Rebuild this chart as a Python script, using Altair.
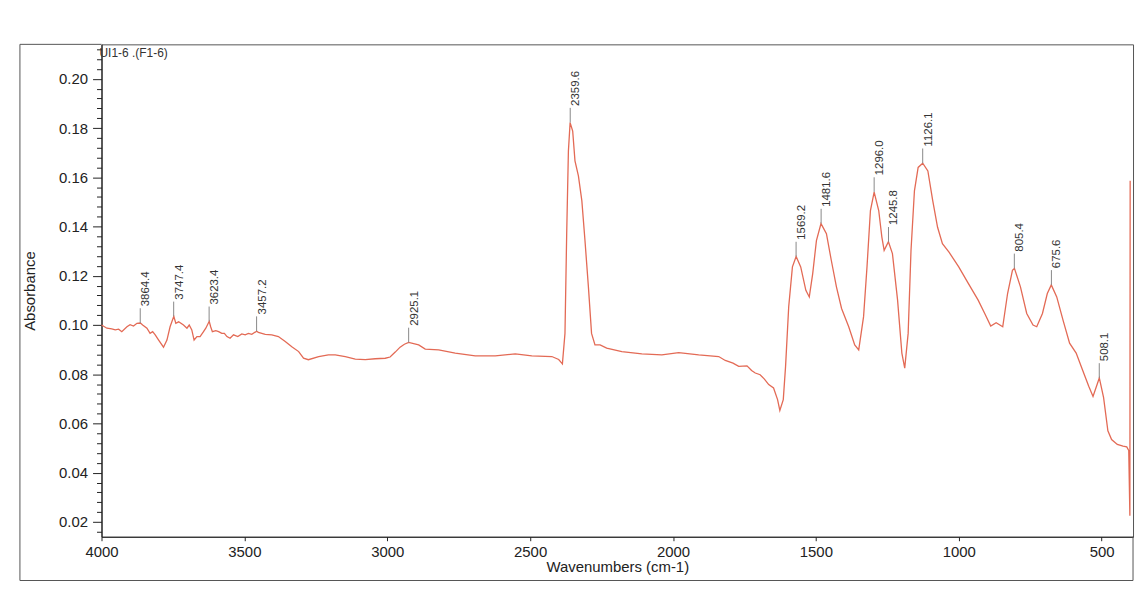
import altair as alt
import pandas as pd

# ---- spectrum ----
wavenumber = [
    4000, 3981, 3964, 3952, 3940, 3929, 3911, 3900, 3888, 3876, 3864, 3856, 3841, 3830, 3821, 3812,
    3800, 3783, 3771, 3760, 3747, 3740, 3730, 3713, 3701, 3693, 3684, 3676, 3666, 3655, 3643, 3635,
    3623, 3618, 3612, 3600, 3590, 3579, 3570, 3561, 3550, 3538, 3523, 3509, 3497, 3486, 3474, 3457,
    3451, 3427, 3404, 3381, 3357, 3334, 3310, 3293, 3276, 3240, 3206, 3182, 3147, 3112, 3077, 3042,
    3007, 2990, 2972, 2955, 2940, 2925, 2890, 2867, 2820, 2762, 2692, 2622, 2552, 2494, 2424, 2400,
    2393, 2387, 2378, 2372, 2366, 2360, 2351, 2343, 2331, 2319, 2308, 2296, 2285, 2273, 2255, 2232,
    2179, 2109, 2039, 1980, 1910, 1840, 1817, 1790, 1770, 1741, 1725, 1712, 1695, 1680, 1665, 1648,
    1634, 1626, 1614, 1606, 1595, 1582, 1569, 1553, 1535, 1523, 1511, 1498, 1482, 1463, 1446, 1428,
    1410, 1385, 1364, 1350, 1333, 1321, 1309, 1296, 1280, 1269, 1261, 1246, 1232, 1214, 1199, 1189,
    1177, 1167, 1155, 1142, 1126, 1108, 1091, 1074, 1057, 1034, 1000, 966, 932, 909, 888, 869,
    846, 829, 812, 805, 784, 762, 740, 727, 707, 690, 676, 657, 635, 612, 589, 567,
    545, 530, 508, 493, 478, 465, 445, 425, 412, 405, 401, 400,
]
absorbance = [
    0.1000, 0.0987, 0.0984, 0.0980, 0.0983, 0.0973, 0.0993, 0.1001, 0.0996, 0.1007, 0.1008, 0.1000, 0.0987, 0.0966, 0.0973, 0.0960,
    0.0939, 0.0910, 0.0939, 0.0993, 0.1035, 0.1007, 0.1013, 0.1000, 0.0987, 0.1000, 0.0980, 0.0939, 0.0953, 0.0953, 0.0973, 0.0987,
    0.1015, 0.0993, 0.0973, 0.0977, 0.0973, 0.0966, 0.0966, 0.0953, 0.0946, 0.0960, 0.0953, 0.0964, 0.0960, 0.0966, 0.0962, 0.0975,
    0.0970, 0.0962, 0.0960, 0.0953, 0.0933, 0.0912, 0.0892, 0.0865, 0.0859, 0.0872, 0.0879, 0.0879, 0.0872, 0.0861, 0.0859, 0.0863,
    0.0865, 0.0870, 0.0890, 0.0910, 0.0922, 0.0929, 0.0919, 0.0902, 0.0899, 0.0886, 0.0875, 0.0875, 0.0883, 0.0875, 0.0872, 0.0860,
    0.0850, 0.0842, 0.0966, 0.1370, 0.1707, 0.1822, 0.1788, 0.1667, 0.1606, 0.1505, 0.1343, 0.1155, 0.0966, 0.0919, 0.0919, 0.0906,
    0.0892, 0.0883, 0.0879, 0.0888, 0.0879, 0.0872, 0.0856, 0.0845, 0.0832, 0.0834, 0.0815, 0.0805, 0.0798, 0.0780, 0.0758, 0.0744,
    0.0697, 0.0653, 0.0697, 0.0832, 0.1074, 0.1236, 0.1278, 0.1236, 0.1141, 0.1114, 0.1209, 0.1343, 0.1412, 0.1371, 0.1263, 0.1155,
    0.1067, 0.0993, 0.0919, 0.0899, 0.1034, 0.1236, 0.1465, 0.1540, 0.1465, 0.1357, 0.1303, 0.1338, 0.1290, 0.1101, 0.0886, 0.0825,
    0.0966, 0.1303, 0.1545, 0.1640, 0.1657, 0.1626, 0.1505, 0.1397, 0.1330, 0.1296, 0.1236, 0.1168, 0.1101, 0.1047, 0.0996, 0.1009,
    0.0993, 0.1128, 0.1222, 0.1230, 0.1155, 0.1047, 0.1000, 0.0993, 0.1047, 0.1128, 0.1163, 0.1114, 0.1020, 0.0926, 0.0886, 0.0818,
    0.0751, 0.0710, 0.0785, 0.0705, 0.0570, 0.0535, 0.0515, 0.0508, 0.0505, 0.0490, 0.0225, 0.1586,
]

# ---- peak annotations ----
peak_wn = [3864.4, 3747.4, 3623.4, 3457.2, 2925.1, 2359.6, 1569.2, 1481.6, 1296.0, 1245.8, 1126.1, 805.4, 675.6, 508.1]
peak_abs = [0.1008, 0.1035, 0.1015, 0.0975, 0.0929, 0.1822, 0.1278, 0.1412, 0.1540, 0.1338, 0.1657, 0.1230, 0.1163, 0.0785]
peak_text = ["3864.4", "3747.4", "3623.4", "3457.2", "2925.1", "2359.6", "1569.2", "1481.6",
             "1296.0", "1245.8", "1126.1", "805.4", "675.6", "508.1"]

sample_name = "UI1-6 .(F1-6)"
x_title = "Wavenumbers (cm-1)"
y_title = "Absorbance"
x_ticks = [4000, 3500, 3000, 2500, 2000, 1500, 1000, 500]
y_ticks = [0.016, 0.02, 0.024, 0.028, 0.032, 0.036, 0.04, 0.044, 0.048, 0.052, 0.056, 0.06,
           0.064, 0.068, 0.072, 0.076, 0.08, 0.084, 0.088, 0.092, 0.096, 0.1, 0.104, 0.108,
           0.112, 0.116, 0.12, 0.124, 0.128, 0.132, 0.136, 0.14, 0.144, 0.148, 0.152, 0.156,
           0.16, 0.164, 0.168, 0.172, 0.176, 0.18, 0.184, 0.188, 0.192, 0.196, 0.2, 0.204,
           0.208, 0.212]

FONT = "Liberation Sans"
LINE_COLOR = "#e36a55"
INK = "#222222"

spec_df = pd.DataFrame({"wn": wavenumber, "a": absorbance})
peaks_df = pd.DataFrame({"wn": peak_wn, "a": peak_abs, "label": peak_text})
peaks_df["top"] = peaks_df["a"] + 0.006
peaks_df["ty"] = peaks_df["a"] + 0.0068

xs = alt.Scale(domain=[390, 4000], reverse=True, nice=False, zero=False)
ys = alt.Scale(domain=[0.014, 0.214], nice=False, zero=False)

major = "abs(round(datum.value*50) - datum.value*50) < 0.001"
x_axis = alt.Axis(values=x_ticks, format="d", title=x_title, tickSize=4, labelPadding=4,
                  titlePadding=0, grid=False, labelFlush=False)
y_axis = alt.Axis(values=y_ticks, title=y_title, grid=False, labelFlush=False,
                  labelExpr=f"{major} ? format(datum.value, '.2f') : ''",
                  tickSize={"condition": {"test": major, "value": 9}, "value": 5},
                  labelPadding=5, titlePadding=21)

line = alt.Chart(spec_df).mark_line(color=LINE_COLOR, strokeWidth=1.3).encode(
    x=alt.X("wn:Q", scale=xs, axis=x_axis),
    y=alt.Y("a:Q", scale=ys, axis=y_axis),
    order=alt.Order("wn:Q", sort="descending"),
)

ticks = alt.Chart(peaks_df).mark_rule(color="#888888", strokeWidth=1).encode(
    x=alt.X("wn:Q", scale=xs, axis=x_axis),
    y=alt.Y("a:Q", scale=ys, axis=y_axis),
    y2="top:Q",
)

labels = alt.Chart(peaks_df).mark_text(
    angle=270, align="left", baseline="top", font=FONT, fontSize=11.5, color="#333333"
).encode(
    x=alt.X("wn:Q", scale=xs, axis=x_axis),
    y=alt.Y("ty:Q", scale=ys, axis=y_axis),
    text="label:N",
)

header = alt.Chart(pd.DataFrame({"t": [sample_name]})).mark_text(
    align="left", baseline="middle", font=FONT, fontSize=12, color="#333333"
).encode(x=alt.value(-2), y=alt.value(9), text="t:N")

frame_df = pd.DataFrame({"k": [0]})
frame_color = "#555555"
frame_left = alt.Chart(frame_df).mark_rule(color=frame_color).encode(
    x=alt.value(-82), y=alt.value(0), y2=alt.value(539))
frame_top = alt.Chart(frame_df).mark_rule(color=frame_color).encode(
    x=alt.value(-82), x2=alt.value(0), y=alt.value(0))
frame_bottom = alt.Chart(frame_df).mark_rule(color=frame_color).encode(
    x=alt.value(-82), x2=alt.value(1037), y=alt.value(539))
frame_right = alt.Chart(frame_df).mark_rule(color=frame_color).encode(
    x=alt.value(1037), y=alt.value(495), y2=alt.value(539))

chart = alt.layer(
    frame_left, frame_top, frame_bottom, frame_right, line, ticks, labels, header
).properties(
    width=1037,
    height=495,
    autosize=alt.AutoSizeParams(type="none"),
    padding={"left": 94, "top": 35, "right": 5, "bottom": 50},
    background="white",
).configure_view(
    stroke=frame_color, strokeWidth=1
).configure_axis(
    labelFont=FONT, titleFont=FONT, labelFontSize=15, titleFontSize=15,
    titleFontWeight="normal", labelColor=INK, titleColor=INK,
    domainColor=INK, tickColor=INK, domainWidth=1.2,
)

chart.save("out.html", embed_options={"renderer": "svg", "actions": False})
